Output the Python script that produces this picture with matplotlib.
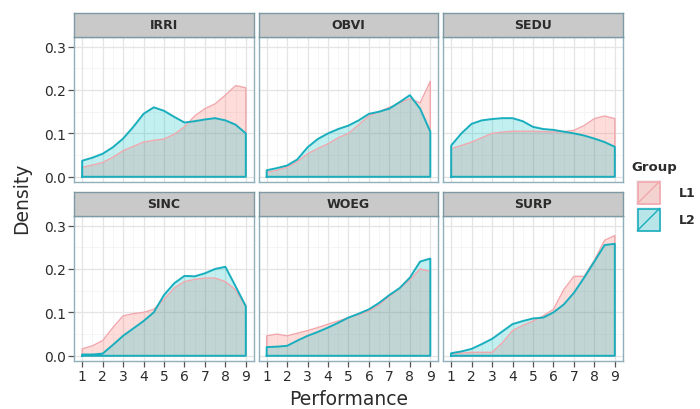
import matplotlib
matplotlib.use("Agg")
import matplotlib.pyplot as plt
from matplotlib.patches import Rectangle

# performance grid the densities were read on
perf = [1, 1.5, 2, 2.5, 3, 3.5, 4, 4.5, 5, 5.5, 6, 6.5, 7, 7.5, 8, 8.5, 9]

panels = ["IRRI", "OBVI", "SEDU", "SINC", "WOEG", "SURP"]
groups = ["L1", "L2"]

irri_l1 = [0.022, 0.027, 0.033, 0.045, 0.060, 0.070, 0.080, 0.084, 0.087, 0.098, 0.115, 0.140, 0.157, 0.168, 0.188, 0.210, 0.205]
irri_l2 = [0.037, 0.044, 0.053, 0.068, 0.088, 0.115, 0.145, 0.160, 0.152, 0.138, 0.125, 0.128, 0.132, 0.135, 0.130, 0.120, 0.100]
obvi_l1 = [0.010, 0.015, 0.022, 0.035, 0.053, 0.065, 0.076, 0.090, 0.100, 0.120, 0.140, 0.150, 0.160, 0.170, 0.180, 0.170, 0.220]
obvi_l2 = [0.015, 0.020, 0.026, 0.040, 0.068, 0.087, 0.100, 0.110, 0.118, 0.130, 0.145, 0.150, 0.157, 0.172, 0.188, 0.157, 0.104]
sedu_l1 = [0.065, 0.072, 0.080, 0.090, 0.100, 0.103, 0.105, 0.105, 0.105, 0.104, 0.103, 0.104, 0.107, 0.118, 0.134, 0.140, 0.134]
sedu_l2 = [0.072, 0.100, 0.122, 0.130, 0.133, 0.135, 0.135, 0.128, 0.115, 0.110, 0.108, 0.104, 0.100, 0.095, 0.088, 0.080, 0.069]
sinc_l1 = [0.016, 0.023, 0.035, 0.065, 0.092, 0.097, 0.100, 0.107, 0.130, 0.156, 0.171, 0.176, 0.179, 0.179, 0.171, 0.152, 0.114]
sinc_l2 = [0.003, 0.003, 0.005, 0.025, 0.046, 0.063, 0.080, 0.100, 0.140, 0.167, 0.184, 0.183, 0.190, 0.200, 0.205, 0.160, 0.114]
woeg_l1 = [0.046, 0.050, 0.046, 0.052, 0.058, 0.065, 0.073, 0.080, 0.088, 0.095, 0.103, 0.118, 0.137, 0.155, 0.175, 0.200, 0.194]
woeg_l2 = [0.020, 0.021, 0.023, 0.035, 0.046, 0.055, 0.065, 0.076, 0.088, 0.097, 0.107, 0.122, 0.140, 0.156, 0.180, 0.217, 0.224]
surp_l1 = [0.005, 0.006, 0.008, 0.008, 0.008, 0.030, 0.058, 0.070, 0.080, 0.092, 0.107, 0.152, 0.183, 0.183, 0.220, 0.266, 0.277]
surp_l2 = [0.006, 0.010, 0.016, 0.027, 0.039, 0.056, 0.073, 0.080, 0.086, 0.088, 0.100, 0.118, 0.145, 0.180, 0.217, 0.255, 0.258]

series = {
    "IRRI": (irri_l1, irri_l2),
    "OBVI": (obvi_l1, obvi_l2),
    "SEDU": (sedu_l1, sedu_l2),
    "SINC": (sinc_l1, sinc_l2),
    "WOEG": (woeg_l1, woeg_l2),
    "SURP": (surp_l1, surp_l2),
}

fill_cols = ["#F8766D", "#00BFC4"]
line_cols = ["#f2a7ad", "#19aebd"]
fill_alpha = [0.25, 0.24]
border = "#8fb0ba"
grid_col = "#e4e4e4"
text_col = "#2b2b2b"

W, H = 700, 410
fig = plt.figure(figsize=(7, 4.1), dpi=100)
fig.patch.set_facecolor("white")

col_x = [74, 258.5, 443]
panel_w = 180
row_y = [38, 217]      # panel tops
panel_h = 145
strip_h = 24


def frac(x0, y0, w, h):
    return [x0 / W, 1 - (y0 + h) / H, w / W, h / H]


for i, name in enumerate(panels):
    r, c = divmod(i, 3)
    ax = fig.add_axes(frac(col_x[c], row_y[r], panel_w, panel_h))
    ax.set_xlim(0.6, 9.4)
    ax.set_ylim(-0.012, 0.322)

    # grid: minor then major
    for v in [1.5, 2.5, 3.5, 4.5, 5.5, 6.5, 7.5, 8.5]:
        ax.axvline(v, color="#f2f2f2", lw=0.5, zorder=0)
    for v in [0.05, 0.15, 0.25]:
        ax.axhline(v, color="#f2f2f2", lw=0.5, zorder=0)
    for v in range(1, 10):
        ax.axvline(v, color=grid_col, lw=0.9, zorder=0)
    for v in [0, 0.1, 0.2, 0.3]:
        ax.axhline(v, color=grid_col, lw=0.9, zorder=0)

    for g in range(2):
        y = series[name][g]
        ax.fill_between(perf, 0, y, color=fill_cols[g], alpha=fill_alpha[g], lw=0, zorder=2)
        xs = [perf[0]] + perf + [perf[-1], perf[0]]
        ys = [0] + y + [0, 0]
        ax.plot(xs, ys, color=line_cols[g], lw=1.4 if g else 1.0, zorder=3)

    for s in ax.spines.values():
        s.set_color(border)
        s.set_linewidth(1.0)
    ax.set_xticks(range(1, 10))
    ax.set_yticks([0, 0.1, 0.2, 0.3])
    ax.tick_params(length=4, width=0.9, color="#555555", labelsize=10,
                   labelcolor=text_col, pad=2)
    if c == 0:
        ax.set_yticklabels(["0.0", "0.1", "0.2", "0.3"])
    else:
        ax.tick_params(axis="y", left=False, labelleft=False)
    if r == 1:
        ax.set_xticklabels([str(v) for v in range(1, 10)])
    else:
        ax.tick_params(axis="x", bottom=False, labelbottom=False)

    sax = fig.add_axes(frac(col_x[c], row_y[r] - strip_h, panel_w, strip_h))
    sax.set_facecolor("#c9c9c9")
    sax.set_xticks([])
    sax.set_yticks([])
    for s in sax.spines.values():
        s.set_color("#7d9aa4")
        s.set_linewidth(1.0)
    sax.text(0.5, 0.5, name, ha="center", va="center", fontsize=9,
             fontweight="bold", color=text_col, transform=sax.transAxes)

fig.text(349 / W, 1 - 400 / H, "Performance", ha="center", va="center",
         fontsize=13.5, color=text_col)
fig.text(22 / W, 1 - 198 / H, "Density", ha="center", va="center",
         fontsize=13.5, color=text_col, rotation=90)

# legend
fig.text(631 / W, 1 - 168 / H, "Group", ha="left", va="center",
         fontsize=9.5, fontweight="bold", color=text_col)
for g, lab in enumerate(groups):
    top = 181 + g * 27
    kax = fig.add_axes(frac(636, top, 25, 25))
    kax.set_xlim(0, 1)
    kax.set_ylim(0, 1)
    kax.axis("off")
    kax.add_patch(Rectangle((0, 0), 1, 1, facecolor="#f2f2f2", edgecolor="none"))
    kax.add_patch(Rectangle((0.06, 0.06), 0.88, 0.88, facecolor=fill_cols[g],
                            alpha=fill_alpha[g], edgecolor="none"))
    kax.add_patch(Rectangle((0.06, 0.06), 0.88, 0.88, facecolor="none",
                            edgecolor=line_cols[g], lw=1.2))
    kax.plot([0.06, 0.94], [0.06, 0.94], color=line_cols[g], lw=1.0)
    fig.text(679 / W, 1 - (top + 12.5) / H, lab, ha="left", va="center",
             fontsize=9, fontweight="bold", color=text_col)

fig.savefig("out.png", dpi=100)
